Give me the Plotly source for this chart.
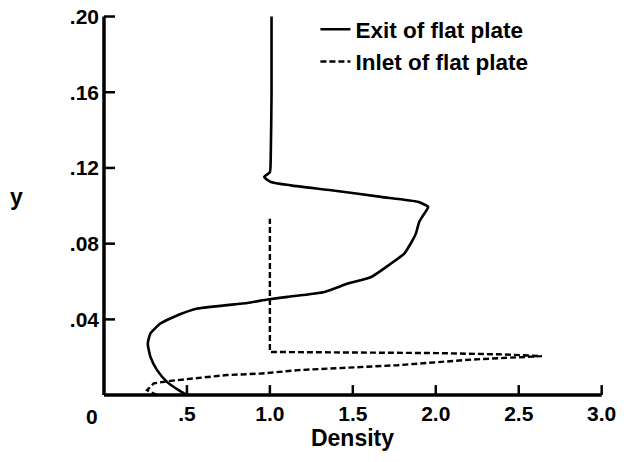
import plotly.graph_objects as go

# ---- data ----
exit_density = [1.01, 1.01, 1.005, 1.00, 0.966, 1.006, 1.127, 1.37, 1.67, 1.893, 1.954, 1.924,
                1.90, 1.88, 1.86, 1.81, 1.73, 1.61, 1.47, 1.33, 1.107, 0.986, 0.865, 0.563,
                0.42, 0.34, 0.28, 0.264, 0.28, 0.32, 0.38, 0.45, 0.49]
exit_y = [0.200, 0.160, 0.125, 0.1178, 0.1152, 0.1126, 0.1108, 0.1082, 0.1047, 0.1021, 0.0994, 0.095,
          0.0915, 0.0853, 0.0818, 0.0748, 0.0695, 0.0624, 0.0589, 0.0545, 0.0519, 0.0505, 0.0487, 0.0457,
          0.0413, 0.0378, 0.0326, 0.0272, 0.0202, 0.0132, 0.0070, 0.0026, 0.0005]

inlet_density = [0.32, 0.26, 0.30, 0.40, 0.54, 0.74, 0.95, 1.05, 1.17, 1.77, 2.22, 2.64,
                 2.40, 2.00, 1.50, 1.00, 1.00]
inlet_y = [0.0, 0.0026, 0.0062, 0.0075, 0.0088, 0.0106, 0.0114, 0.0123, 0.0132, 0.0158, 0.0188, 0.0206,
           0.0215, 0.0222, 0.0226, 0.0228, 0.0932]

series_names = ["Exit of flat plate", "Inlet of flat plate"]

x_tick_vals = [0.5, 1.0, 1.5, 2.0, 2.5, 3.0]
x_tick_text = [".5", "1.0", "1.5", "2.0", "2.5", "3.0"]
y_tick_vals = [0.04, 0.08, 0.12, 0.16, 0.20]
y_tick_text = [".04", ".08", ".12", ".16", ".20"]
origin_label = "0"
x_title = "Density"
y_title = "y"

FONT = "Liberation Sans"

X_MAX, Y_MAX = 3.0, 0.2
X_RANGE = [-0.012, 3.008]
Y_RANGE = [-0.001, 0.2008]
X_TICK_LEN = 0.00528   # inward tick length on the x axis, in y units (~10 px)
Y_TICK_LEN = 0.0663    # inward tick length on the y axis, in x units (~11 px)


def bold(s):
    return "<b>" + s + "</b>"


fig = go.Figure()

# axis frame (left + bottom) and inward tick marks, drawn first
frame_x = [0, 0, None, 0, X_MAX]
frame_y = [Y_MAX, 0, None, 0, 0]
fig.add_trace(go.Scatter(x=frame_x, y=frame_y, mode="lines", showlegend=False, hoverinfo="skip",
                         cliponaxis=False, line=dict(color="black", width=3.5)))
tick_x, tick_y = [], []
for v in x_tick_vals:
    tick_x += [v, v, None]
    tick_y += [0, X_TICK_LEN, None]
for v in y_tick_vals:
    tick_x += [0, Y_TICK_LEN, None]
    tick_y += [v, v, None]
fig.add_trace(go.Scatter(x=tick_x, y=tick_y, mode="lines", showlegend=False, hoverinfo="skip",
                         cliponaxis=False, line=dict(color="black", width=2.5)))

fig.add_trace(go.Scatter(x=exit_density, y=exit_y, mode="lines", name=bold(series_names[0]),
                         line=dict(color="black", width=2.6, shape="spline", smoothing=0.5)))
fig.add_trace(go.Scatter(x=inlet_density, y=inlet_y, mode="lines", name=bold(series_names[1]),
                         line=dict(color="black", width=2.4, dash="6px,3px")))

tick_font = dict(family=FONT, size=21, color="black")

fig.update_layout(
    width=638, height=462,
    margin=dict(l=102, r=35, t=15, b=65, autoexpand=False),
    paper_bgcolor="white", plot_bgcolor="rgba(0,0,0,0)",
    xaxis=dict(range=X_RANGE, tickvals=x_tick_vals, ticktext=[bold(t) for t in x_tick_text],
               showline=False, showgrid=False, zeroline=False, ticks="", tickfont=tick_font,
               ticklabelstandoff=2,
               title=dict(text=bold(x_title), font=dict(family=FONT, size=23, color="black"),
                          standoff=4)),
    yaxis=dict(range=Y_RANGE, tickvals=y_tick_vals, ticktext=[bold(t) for t in y_tick_text],
               showline=False, showgrid=False, zeroline=False, ticks="", tickfont=tick_font,
               ticklabelstandoff=2),
    showlegend=True,
    hovermode=False,
    legend=dict(x=0.426, y=1.018, xanchor="left", yanchor="top", bgcolor="rgba(0,0,0,0)",
                font=dict(family=FONT, size=22.5, color="black")),
)

fig.add_annotation(x=0, y=0, xref="x", yref="y", text=bold(origin_label), showarrow=False,
                   xanchor="center", yanchor="middle", xshift=-12, yshift=-21,
                   font=tick_font)
fig.add_annotation(x=-0.171, y=0.1045, xref="paper", yref="y", text=bold(y_title), showarrow=False,
                   xanchor="center", yanchor="middle",
                   font=dict(family=FONT, size=23, color="black"))

fig.write_html("out.html", config={"displayModeBar": False},
               post_script="document.body.style.margin='0';")
